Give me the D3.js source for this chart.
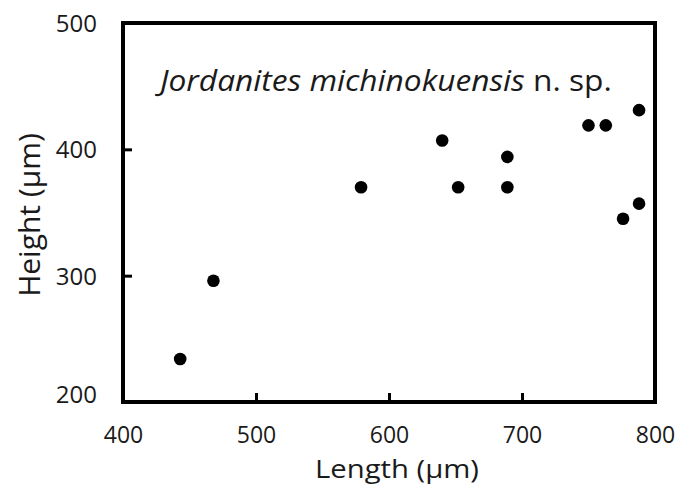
<!DOCTYPE html>
<html>
<head>
<meta charset="utf-8">
<script src="https://cdn.jsdelivr.net/npm/d3@7"></script>
<style>
  html, body { margin: 0; padding: 0; background: #fff; }
  svg { display: block; }
  text { font-family: "Open Sans", sans-serif; fill: #1a1a1a; }
</style>
</head>
<body>
<svg id="chart" width="679" height="486"></svg>
<script>
// Data: specimen length and height (μm)
const lengths = [443, 468, 579, 640, 652, 689, 689, 750, 763, 788, 776, 788];
const heights = [234, 296, 370, 407, 370, 394, 370, 419, 419, 431, 345, 357];
const xTicks = [400, 500, 600, 700, 800];
const yTicks = [200, 300, 400, 500];
const xTitle = "Length (μm)";
const yTitle = "Height (μm)";
const titleItalic = "Jordanites michinokuensis";
const titleNormal = " n. sp.";

const svg = d3.select("#chart");
const margin = { left: 123, right: 679 - 655, top: 23, bottom: 486 - 402 };
const W = 679, H = 486;

const x = d3.scaleLinear().domain([400, 800]).range([margin.left, W - margin.right]);
const y = d3.scaleLinear().domain([200, 500]).range([H - margin.bottom, margin.top]);

// frame
svg.append("rect")
  .attr("x", x(400)).attr("y", y(500))
  .attr("width", x(800) - x(400)).attr("height", y(200) - y(500))
  .attr("fill", "none").attr("stroke", "#000").attr("stroke-width", 4);

// x axis (ticks inward)
const xAxis = svg.append("g")
  .attr("transform", `translate(0,${y(200)})`)
  .call(d3.axisBottom(x).tickValues(xTicks).tickSizeInner(-9).tickSizeOuter(0).tickPadding(0));
xAxis.select(".domain").remove();
xAxis.selectAll(".tick line").attr("stroke", "#000").attr("stroke-width", 3);
xAxis.selectAll(".tick text")
  .attr("y", 41).attr("dy", null)
  .style("font-size", "23px").attr("fill", "#1a1a1a");

// y axis (ticks inward)
const yAxis = svg.append("g")
  .attr("transform", `translate(${x(400)},0)`)
  .call(d3.axisLeft(y).tickValues(yTicks).tickSizeInner(-9).tickSizeOuter(0).tickPadding(0));
yAxis.select(".domain").remove();
yAxis.selectAll(".tick line").attr("stroke", "#000").attr("stroke-width", 3);
yAxis.selectAll(".tick text")
  .attr("x", -26).attr("dy", "0.36em")
  .style("font-size", "24px").attr("fill", "#1a1a1a");
yAxis.selectAll(".tick").filter(d => d === 200).select("text").attr("y", -8);

// points
svg.append("g").selectAll("circle")
  .data(lengths.map((l, i) => ({ l, h: heights[i] })))
  .join("circle")
  .attr("cx", d => x(d.l))
  .attr("cy", d => y(d.h))
  .attr("r", 6.3)
  .attr("fill", "#000");

// title inside plot
const t = svg.append("text")
  .attr("x", 160).attr("y", 91)
  .style("font-size", "29px");
t.append("tspan").style("font-style", "italic").text(titleItalic);
t.append("tspan").text(titleNormal);
const tw = t.node().getComputedTextLength();
const targetW = 452;
t.attr("transform", `translate(160,91) scale(${targetW / tw},1) translate(-160,-91)`);

// axis titles
const xt = svg.append("text")
  .attr("x", 397).attr("y", 478)
  .attr("text-anchor", "middle")
  .style("font-size", "26px")
  .text(xTitle);
const xtw = xt.node().getComputedTextLength();
xt.attr("transform", `translate(397,478) scale(${164 / xtw},1) translate(-397,-478)`);

svg.append("text")
  .attr("transform", `translate(40,215) rotate(-90)`)
  .attr("text-anchor", "middle")
  .style("font-size", "30px")
  .text(yTitle);
</script>
</body>
</html>
